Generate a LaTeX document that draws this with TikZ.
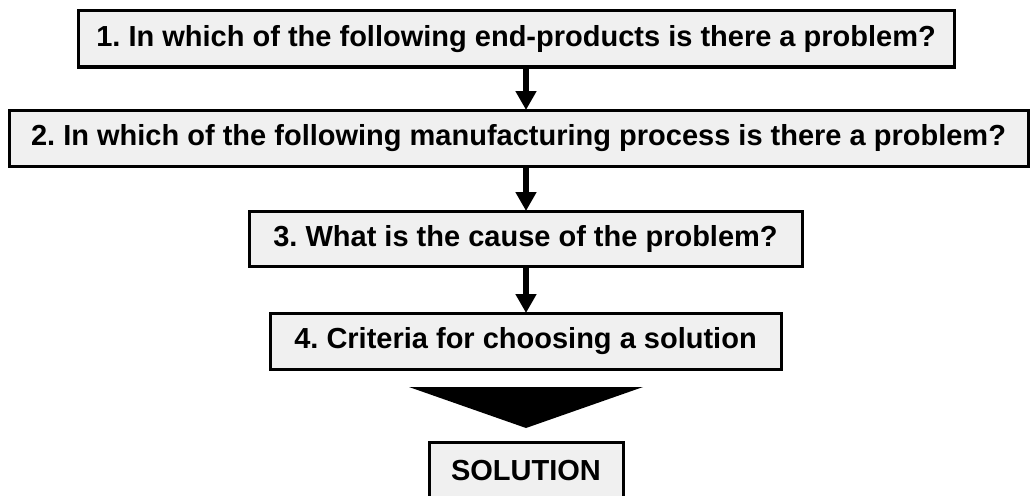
\documentclass[tikz,border=0pt]{standalone}
\usepackage{fontspec}
\setmainfont{Liberation Sans}
\usetikzlibrary{arrows.meta}
\begin{document}
\begin{tikzpicture}[x=1pt,y=-1pt,
  qbox/.style={draw=black, line width=3pt, fill=boxgray, rectangle, inner sep=0pt, outer sep=0pt,
    font=\fontsize{29}{34}\selectfont\bfseries\frenchspacing, text=black},
  arr/.style={line width=6pt, -{Triangle[width=20pt,length=19pt]}, shorten >=0pt}]
\definecolor{boxgray}{HTML}{F0F0F0}
\useasboundingbox[fill=white] (0,0) rectangle (1030,495);
\node[qbox, minimum width=876pt, minimum height=56pt] (b1) at (516,39) {1. In which of the following end-products is there a problem?};
\node[qbox, minimum width=1019pt, minimum height=56pt] (b2) at (518.5,138) {2. In which of the following manufacturing process is there a problem?};
\node[qbox, minimum width=553pt, minimum height=55pt] (b3) at (525.5,238.5) {3. What is the cause of the problem?};
\node[qbox, minimum width=511pt, minimum height=56pt] (b4) at (525.5,341) {4. Criteria for choosing a solution};
\node[qbox, minimum width=194pt, minimum height=58pt] (sol) at (526,471) {SOLUTION};
\draw[arr] (b1.south -| sol.north) -- (b2.north -| sol.north);
\draw[arr] (b2.south -| sol.north) -- (b3.north -| sol.north);
\draw[arr] (b3.south -| sol.north) -- (b4.north -| sol.north);
\fill[black] (409,387) -- (643,387) -- (526,428) -- cycle;
\end{tikzpicture}
\end{document}
